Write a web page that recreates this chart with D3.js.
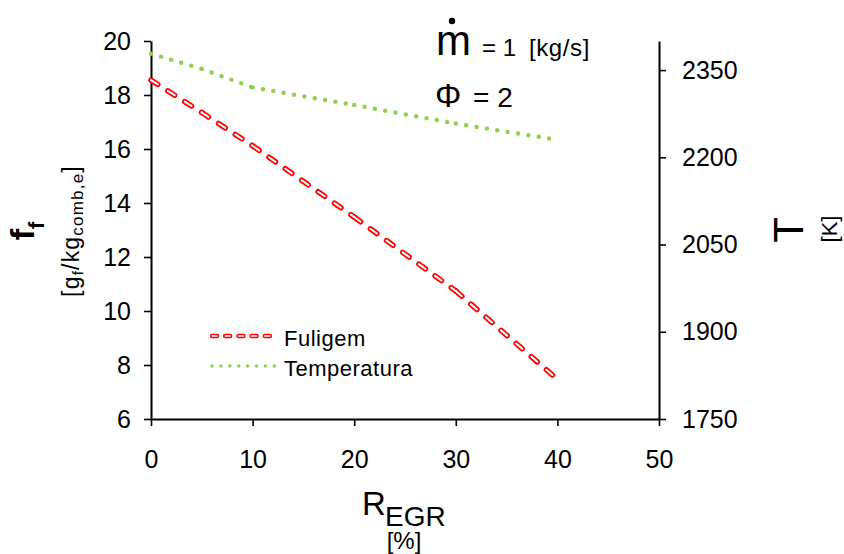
<!DOCTYPE html>
<html>
<head>
<meta charset="utf-8">
<script src="https://cdn.jsdelivr.net/npm/d3@7"></script>
<style>
  body { margin: 0; background: #fff; }
  svg text { font-family: "Liberation Sans", Arial, sans-serif; fill: #000; }
</style>
</head>
<body>
<script>
// R_EGR [%] and the two series
const regr = [0, 5, 10, 20, 30, 40]
const fuligem = [18.55, 17.35, 16.12, 13.48, 10.74, 7.47]
const temperatura = [2378, 2352, 2320, 2290, 2258, 2230]

const xTicks = [0, 10, 20, 30, 40, 50]
const leftTicks = [6, 8, 10, 12, 14, 16, 18, 20]
const rightTicks = [1750, 1900, 2050, 2200, 2350]

var w = 844
var h = 554
var plotLeft = 151, plotRight = 659, plotTop = 41, plotBottom = 419

const xScale = d3.scaleLinear().domain([0, 50]).range([plotLeft, plotRight])
const yLeft = d3.scaleLinear().domain([6, 20]).range([plotBottom, plotTop])
const yRight = d3.scaleLinear().domain([1750, 2400]).range([plotBottom, plotTop])

var svg = d3.select("body")
  .append("svg")
  .attr("width", w)
  .attr("height", h)

const styleAxis = (g, size) => {
  g.select(".domain").attr("stroke", "#000").attr("stroke-width", 2)
  g.selectAll(".tick line").attr("stroke", "#000").attr("stroke-width", 1.6)
  g.selectAll(".tick text")
    .style("font-family", '"Liberation Sans", Arial, sans-serif')
    .style("font-size", size + "px")
    .attr("fill", "#000")
}

svg.append("g")
  .attr("transform", "translate(0," + plotBottom + ")")
  .call(d3.axisBottom(xScale).tickValues(xTicks).tickSize(7).tickSizeOuter(0).tickPadding(24))
  .call(g => styleAxis(g, 25))

svg.append("g")
  .attr("transform", "translate(" + plotLeft + ",0)")
  .call(d3.axisLeft(yLeft).tickValues(leftTicks).tickSize(7).tickSizeOuter(0).tickPadding(13))
  .call(g => styleAxis(g, 25))

svg.append("g")
  .attr("transform", "translate(" + plotRight + ",0)")
  .call(d3.axisRight(yRight).tickValues(rightTicks).tickFormat(d3.format("d"))
    .tickSize(7).tickSizeOuter(0).tickPadding(16))
  .call(g => styleAxis(g, 25))

// series: each segment drawn on its own so the dash pattern restarts at every point
const sootPts = regr.map((r, i) => [r, fuligem[i]])
const tempPts = regr.map((r, i) => [r, temperatura[i]])

const sootLine = d3.line().x(d => xScale(d[0])).y(d => yLeft(d[1]))
const tempLine = d3.line().x(d => xScale(d[0])).y(d => yRight(d[1]))

svg.selectAll(".temp")
  .data(d3.pairs(tempPts))
  .join("path")
  .attr("class", "temp")
  .attr("d", d => tempLine(d))
  .attr("fill", "none")
  .attr("stroke", "#92D050")
  .attr("stroke-width", 4.5)
  .attr("stroke-linecap", "round")
  .attr("stroke-dasharray", "0,10.5")

svg.selectAll(".soot-out")
  .data(d3.pairs(sootPts))
  .join("path")
  .attr("class", "soot-out")
  .attr("d", d => sootLine(d))
  .attr("fill", "none")
  .attr("stroke", "#FF0000")
  .attr("stroke-width", 5.5)
  .attr("stroke-linecap", "round")
  .attr("stroke-dasharray", "8,12")

svg.selectAll(".soot-in")
  .data(d3.pairs(sootPts))
  .join("path")
  .attr("class", "soot-in")
  .attr("d", d => sootLine(d))
  .attr("fill", "none")
  .attr("stroke", "#fff")
  .attr("stroke-width", 2)
  .attr("stroke-linecap", "round")
  .attr("stroke-dasharray", "8,12")

// legend
const legend = svg.append("g")
legend.append("path").attr("d", "M212,336H276")
  .attr("stroke", "#FF0000").attr("stroke-width", 4.5).attr("stroke-linecap", "round")
  .attr("stroke-dasharray", "5,8.2").attr("fill", "none")
legend.append("path").attr("d", "M212,336H276")
  .attr("stroke", "#fff").attr("stroke-width", 1.6).attr("stroke-linecap", "round")
  .attr("stroke-dasharray", "5,8.2").attr("fill", "none")
legend.append("path").attr("d", "M212,366H276")
  .attr("stroke", "#92D050").attr("stroke-width", 3.5).attr("stroke-linecap", "round")
  .attr("stroke-dasharray", "0,8.9").attr("fill", "none")
legend.append("text").attr("x", 284).attr("y", 346)
  .style("font-size", "22px").style("letter-spacing", "0.5px").text("Fuligem")
legend.append("text").attr("x", 284).attr("y", 376)
  .style("font-size", "22px").style("letter-spacing", "0.5px").text("Temperatura")

// annotations
svg.append("text").attr("x", 436).attr("y", 55)
  .style("font-size", "42px").text("m")
svg.append("circle").attr("cx", 452).attr("cy", 21).attr("r", 3.2).attr("fill", "#000")
svg.append("text").attr("x", 482).attr("y", 56)
  .style("font-size", "24px").text("= 1")
svg.append("text").attr("x", 529).attr("y", 56)
  .style("font-size", "24px").style("letter-spacing", "0.6px").text("[kg/s]")
svg.append("text").attr("x", 435).attr("y", 107)
  .style("font-size", "33px").text("Φ")
svg.append("text").attr("x", 473).attr("y", 107)
  .style("font-size", "28px").text("= 2")

// x title
svg.append("text").attr("x", 362).attr("y", 515)
  .style("font-size", "33px").text("R")
svg.append("text").attr("x", 385).attr("y", 526)
  .style("font-size", "28px").text("EGR")
svg.append("text").attr("x", 404).attr("y", 549)
  .attr("text-anchor", "middle")
  .style("font-size", "24px").text("[%]")

// left title
const ff = svg.append("text")
  .attr("transform", "translate(34,231) rotate(-90)")
  .attr("text-anchor", "middle")
ff.append("tspan").style("font-size", "34px").style("font-weight", "bold").text("f")
ff.append("tspan").attr("dy", 10).style("font-size", "22px").style("font-weight", "bold").text("f")

const unit = svg.append("text")
  .attr("transform", "translate(79,231) rotate(-90)")
  .attr("text-anchor", "middle")
  .style("font-size", "23px")
  .style("letter-spacing", "1.2px")
unit.append("tspan").text("[g")
unit.append("tspan").attr("dy", 4).style("font-size", "15px").text("f")
unit.append("tspan").attr("dy", -4).text("/kg")
unit.append("tspan").attr("dy", 4).style("font-size", "17px").text("comb,e")
unit.append("tspan").attr("dy", -4).text("]")

// right title
svg.append("text")
  .attr("transform", "translate(803,230) rotate(-90)")
  .attr("text-anchor", "middle")
  .style("font-size", "42px")
  .text("T")
svg.append("text")
  .attr("transform", "translate(837,229) rotate(-90)")
  .attr("text-anchor", "middle")
  .style("font-size", "22px")
  .text("[K]")
</script>
</body>
</html>
